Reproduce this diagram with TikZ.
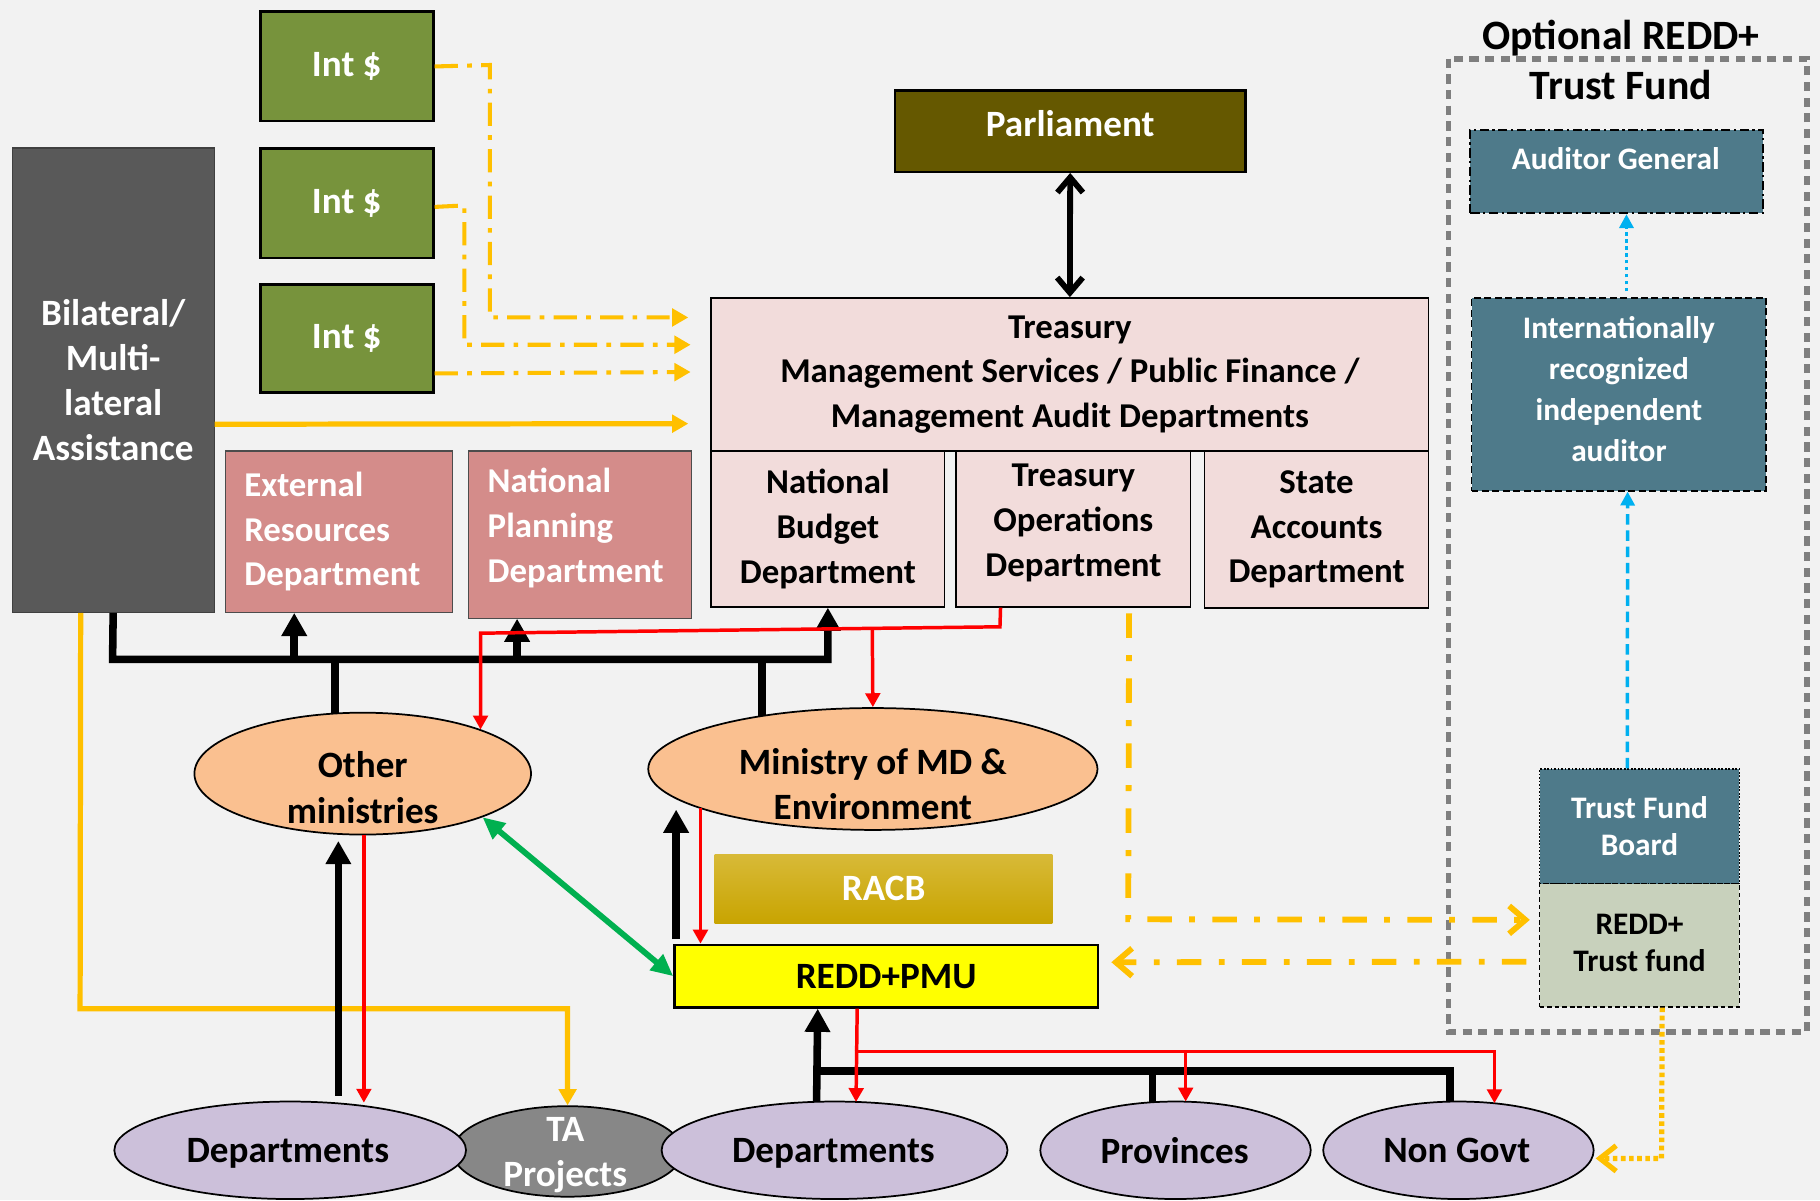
\documentclass[tikz,border=0pt]{standalone}
\usepackage{fontspec}
\setmainfont{Carlito}
\usetikzlibrary{arrows.meta,shapes.geometric,calc}
\definecolor{bgc}{HTML}{F2F2F2}
\definecolor{intg}{HTML}{77933C}
\definecolor{bilg}{HTML}{595959}
\definecolor{parlc}{HTML}{655800}
\definecolor{tpink}{HTML}{F2DCDB}
\definecolor{rose}{HTML}{D48C8A}
\definecolor{peach}{HTML}{FAC090}
\definecolor{lav}{HTML}{CCC0DA}
\definecolor{tagray}{HTML}{878787}
\definecolor{tealc}{HTML}{4E7A8A}
\definecolor{sage}{HTML}{C8D1BC}
\definecolor{goldA}{HTML}{D8BA38}
\definecolor{goldB}{HTML}{C8A400}
\definecolor{yel}{HTML}{FFC000}
\definecolor{pmuy}{HTML}{FFFF00}
\definecolor{grn}{HTML}{00B050}
\definecolor{blu}{HTML}{00B0F0}
\definecolor{dgray}{HTML}{7F7F7F}
\tikzset{
  box/.style={draw=black, line width=1.5pt, inner sep=0pt, anchor=north west, align=center},
  ell/.style={ellipse, draw=black, line width=1.5pt, inner sep=0pt},
  fA/.style={font=\bfseries\fontsize{32}{39}\selectfont, align=center},
  fB/.style={font=\bfseries\fontsize{30}{38.5}\selectfont, align=center},
  fC/.style={font=\bfseries\fontsize{27}{35.5}\selectfont, align=center},
  fD/.style={font=\bfseries\fontsize{27}{32}\selectfont, align=center},
  fT/.style={font=\bfseries\fontsize{36}{43}\selectfont, align=center},
  blk/.style={draw=black, line width=6.5pt},
  blkA/.style={blk, -{Triangle[length=20pt,width=21pt]}},
  rl/.style={draw=red, line width=3pt},
  rlA/.style={rl, -{Triangle[length=12pt,width=12.5pt]}},
  ysol/.style={draw=yel, line width=4.5pt, -{Triangle[length=14pt,width=15pt]}},
  ydd/.style={draw=yel, line width=3.5pt, dash pattern=on 20pt off 8pt on 4pt off 8pt, -{Triangle[length=14pt,width=15pt]}},
  ybig/.style={draw=yel, line width=5pt, dash pattern=on 21pt off 15pt on 5pt off 15pt, -{Straight Barb[length=14pt,width=24pt]}},
  ydot/.style={draw=yel, line width=4.5pt, dash pattern=on 4pt off 3pt, -{Straight Barb[length=14pt,width=22pt]}},
  gl/.style={draw=grn, line width=5pt, {Triangle[length=19pt,width=17pt]}-{Triangle[length=19pt,width=17pt]}},
  bdot/.style={draw=blu, line width=3pt, dash pattern=on 3pt off 3pt, -{Triangle[length=12pt,width=12pt]}},
  bdash/.style={draw=blu, line width=3pt, dash pattern=on 9pt off 5pt, -{Triangle[length=12pt,width=12pt]}},
  gdot/.style={draw=dgray, line width=5pt, dash pattern=on 8pt off 5.5pt},
}
\begin{document}
\begin{tikzpicture}[x=1pt,y=-1pt]
\fill[bgc] (0,0) rectangle (1568,1034);
\useasboundingbox (0,0) rectangle (1568,1034);

% trust fund frame and title
\draw[gdot] (1248,50.5) rectangle (1556.5,889);
\node[fT] (title) at (1396.5,51.5) {Optional REDD+\\Trust Fund};

% left boxes
\node[box, fill=intg, line width=2.5pt, text=white, fA, minimum width=149, minimum height=94] (int1) at (223,9) {Int \$};
\node[box, fill=intg, line width=2.5pt, text=white, fA, minimum width=149, minimum height=94] (int2) at (223,127) {Int \$};
\node[box, fill=intg, line width=2.5pt, text=white, fA, minimum width=149, minimum height=93] (int3) at (223,244) {Int \$};
\node[box, fill=bilg, draw=black!75, line width=1pt, text=white, fA, minimum width=174, minimum height=400] (bil) at (10,127) {Bilateral/\\Multi-\\lateral\\Assistance};
\node[box, fill=rose, draw=black!70, line width=1pt, text=white, fB, align=left, text width=163pt, inner xsep=16pt, minimum width=195, minimum height=139] (erd) at (194,388) {External\\Resources\\Department};
\node[box, fill=rose, draw=black!70, line width=1pt, minimum width=192, minimum height=144] (npd) at (403,388) {};
\node[fB, text=white, align=left, anchor=west, inner sep=0pt] (npdt) at (420,455) {National\\Planning\\Department};

% parliament and treasury
\node[box, fill=parlc, line width=2pt, text=white, fA, text depth=14pt, minimum width=302, minimum height=70] (parl) at (770,77) {Parliament};
\node[box, fill=tpink, fB, minimum width=618, minimum height=132] (treas) at (612,256) {Treasury\\Management Services / Public Finance /\\Management Audit Departments};
\node[box, fill=tpink, fB, minimum width=201, minimum height=134] (nbd) at (612,388) {National\\Budget\\Department};
\node[box, fill=tpink, fB, text depth=15pt, minimum width=202, minimum height=134] (tod) at (823,388) {Treasury\\Operations\\Department};
\node[box, fill=tpink, fB, minimum width=193, minimum height=135] (sad) at (1037,388) {State\\Accounts\\Department};

% trust fund boxes
\node[box, fill=tealc, dash pattern=on 8pt off 3pt on 2pt off 3pt, minimum width=252, minimum height=72] (ag) at (1266,111) {};
\node[fC, text=white] (agt) at (1392,137) {Auditor General};
\node[box, fill=tealc, dash pattern=on 6pt off 3pt, fC, text=white, text depth=9pt, minimum width=254, minimum height=166] (iia) at (1267,256) {Internationally\\recognized\\independent\\auditor};
\node[box, fill=tealc, line width=1pt, dash pattern=on 1.5pt off 1.5pt, fD, text=white, minimum width=172, minimum height=99] (tfb) at (1326,662) {Trust Fund\\Board};
\node[box, fill=sage, line width=1pt, dash pattern=on 4pt off 2.5pt, fD, text depth=4pt, minimum width=172, minimum height=106] (rtf) at (1326,761) {REDD+\\Trust fund};

% middle
\node[box, draw=none, top color=goldA, bottom color=goldB, text=white, fA, minimum width=291, minimum height=60] (racb) at (615,735) {RACB};
\node[box, fill=pmuy, line width=2pt, fA, minimum width=365, minimum height=54] (pmu) at (580,813) {REDD+PMU};

\node[ell, fill=peach, minimum width=290, minimum height=105] (om) at (312.5,666.5) {};
\node[fA] (omt) at (312.5,678.5) {Other\\ministries};
\node[ell, fill=peach, minimum width=387, minimum height=105] (md) at (752,662.5) {};
\node[fA] (mdt) at (752,675.5) {Ministry of MD \&\\Environment};

% bottom ellipses
\node[ell, fill=tagray, minimum width=198, minimum height=78] (ta) at (489,992) {};
\node[fA, text=white] (tat) at (487,995) {TA\\Projects};
\node[ell, fill=lav, minimum width=303, minimum height=84] (dl) at (250,991) {};
\node[fA] (dlt) at (248,994) {Departments};
\node[ell, fill=lav, minimum width=298, minimum height=84] (dm) at (719,991) {};
\node[fA] (dmt) at (718,994) {Departments};
\node[ell, fill=lav, minimum width=233, minimum height=84] (pr) at (1012.75,991) {};
\node[fA] (prt) at (1012,991) {Provinces};
\node[ell, fill=lav, minimum width=233, minimum height=84] (ng) at (1256.5,991) {};
\node[fA] (ngt) at (1255,991) {Non Govt};

% free ends near treasury
\coordinate (t1) at (593,273.5);
\coordinate (t2) at (595,297);
\coordinate (t3) at (595,320.5);
\coordinate (t4) at (593,365);

% yellow money flows
\draw[ydd] (int1.east) -- (422,56) -- (422,273.5) -- (t1);
\draw[ydd] ([yshift=-3pt]int2.east) -- (400,177) -- (400,297) -- (t2);
\draw[ydd] ([yshift=-30pt]int3.east) -- (t3);
\draw[ysol] ([yshift=-38pt]bil.east) -- (t4);
\draw[ysol] ([xshift=-28pt]bil.south) -- (69,869) -| (ta.north);

% black reporting bus (top)
\draw[blkA] (bil.south) -- (97,568) -| (nbd.south);
\coordinate (b1) at (253.5,568);
\coordinate (b2) at (445.5,568);
\draw[blkA] (b1) -- (b1 |- erd.south);
\draw[blkA] (b2) -- (b2 |- npd.south);
\draw[blk] (288.5,568) -- ($(om)+(-24,-51.8)$);
\draw[blk] (656.5,568) -- ($(md)+(-95.5,-45.7)$);

% red flows (top)
\draw[rlA] ([xshift=-62.75pt]tod.south) -- (861.5,540) -- (414,545.5) -- ($(om)+(101.5,-38)$);
\draw[rlA] (751.5,541.3) -- (md.north);

% left column
\draw[blkA] ($(dl)+(41.5,-47)$) -- ($(om)+(-21,58)$);
\draw[rlA] ($(om.south)+(1,0)$) -- ($(dl)+(63.5,-41)$);
\draw[gl] (om.-20) -- (pmu.west);

% ministry <-> PMU
\draw[blkA] ($(pmu.north west)+(2.5,-4)$) -- ($(md)+(-169.5,35)$);
\draw[rlA] ($(md)+(-148.5,33.7)$) -- ($(pmu.north west)+(23.5,0)$);

% bottom bus
\draw[blkA] ($(dm)+(-15.5,-42)$) -- ($(pmu.south)+(-59,0)$);
\draw[blk] (701,922.5) -| ($(ng)+(-7.5,-42)$);
\draw[blk] (993,922.5) -- ($(pr)+(-19.75,-41.7)$);
\draw[rlA] ($(pmu.south)+(-25,0)$) -- ($(dm)+(18.5,-41.6)$);
\draw[rlA] (736.25,906) -| ($(ng)+(31,-40.5)$);
\draw[rlA] (1021.5,906) -- ($(pr)+(8.75,-42)$);

% trust fund flows
\draw[ybig] ($(tod.south)+(48,5)$) -- (972,792) -- ($(rtf.west)+(-8,-22)$);
\draw[ybig] ($(rtf.west)+(-11,14)$) -- ($(pmu.east)+(10.5,-12)$);
\draw[ydot] ($(rtf.south)+(19.5,0)$) -- (1431.5,998) -- ($(ng.east)+(1,7)$);
\draw[bdot] ($(iia.north)+(6.5,-5)$) -- ($(ag.south)+(8.5,0)$);
\draw[bdash] ($(tfb.north)+(-10.5,0)$) -- ($(iia.south)+(7.5,0)$);

% parliament
\draw[line width=5pt, {Straight Barb[length=13pt,width=22pt]}-{Straight Barb[length=13pt,width=22pt]}] (parl.south) -- (treas.north);
\end{tikzpicture}
\end{document}
